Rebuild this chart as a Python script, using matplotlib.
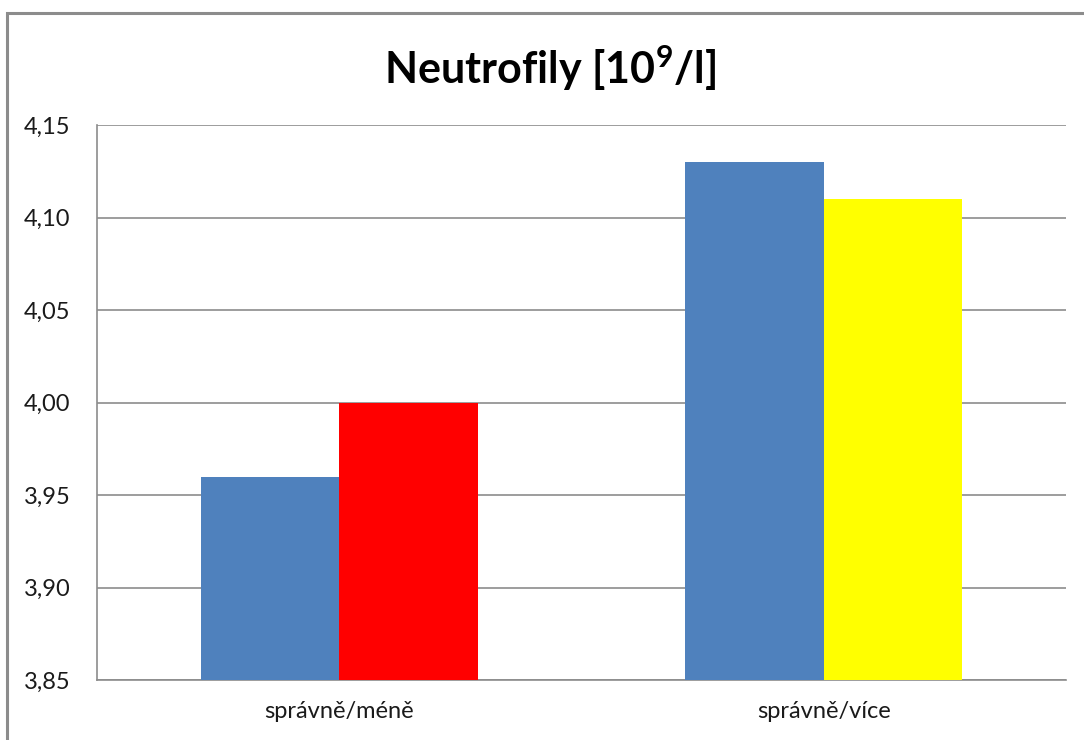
import matplotlib
matplotlib.use('Agg')
import matplotlib.pyplot as plt
from matplotlib.patches import Rectangle
from matplotlib.ticker import FuncFormatter
import numpy as np

plt.rcParams['font.family'] = ['Lato', 'DejaVu Sans']
plt.rcParams['mathtext.fontset'] = 'custom'
plt.rcParams['mathtext.rm'] = 'Lato'
plt.rcParams['mathtext.bf'] = 'Lato:bold'

# data
categories = ['správně/méně', 'správně/více']
blue_vals = [3.96, 4.13]
second_vals = [4.00, 4.11]
second_colors = ['#FF0000', '#FFFF00']
yticks = [3.85, 3.90, 3.95, 4.00, 4.05, 4.10, 4.15]

fig = plt.figure(figsize=(10.84, 7.4), dpi=100)
ax = fig.add_axes([97/1084, 1-680/740, (1066-97)/1084, (680-125)/740])

# outer chart frame (cut off at right and bottom)
fig.patches.append(Rectangle((7/1084, -0.2), 1.2, 1.2 - 13/740,
                             transform=fig.transFigure, fill=False,
                             edgecolor='#8c8c8c', linewidth=2.2, zorder=0))

x = np.arange(len(categories))
w = 0.286
ax.bar(x - w/2, blue_vals, w, color='#4F81BD', zorder=3)
ax.bar(x + w/2, second_vals, w, color=second_colors, zorder=3)

ax.set_xlim(-0.5, 1.5)
ax.set_ylim(3.85, 4.15)
ax.set_yticks(yticks)
ax.yaxis.set_major_formatter(FuncFormatter(lambda v, p: f'{v:.2f}'.replace('.', ',')))
ax.set_xticks(x)
ax.set_xticklabels(categories)
ax.tick_params(axis='both', length=0, labelsize=17, colors='#1a1a1a')
ax.tick_params(axis='y', pad=19)
ax.tick_params(axis='x', pad=15)

ax.grid(axis='y', color='#8c8c8c', linewidth=1.2, zorder=0)
for s in ['top', 'right']:
    ax.spines[s].set_visible(False)
ax.spines['left'].set_color('#8c8c8c')
ax.spines['bottom'].set_color('#8c8c8c')
ax.spines['left'].set_linewidth(1.2)
ax.spines['bottom'].set_linewidth(1.2)

fig.text(550/1084, 1-68/740, r'Neutrofily [10$^{\mathbf{9}}$/l]',
         ha='center', va='center', fontsize=31, fontweight='bold')

fig.savefig('out.png', dpi=100)
